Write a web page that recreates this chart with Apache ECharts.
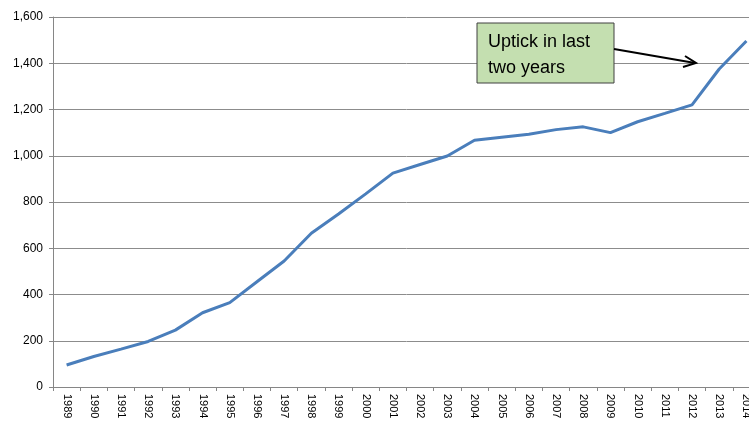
<!DOCTYPE html>
<html>
<head>
<meta charset="utf-8">
<style>
  html, body { margin: 0; padding: 0; background: #fff; overflow: hidden; }
  /* plot runs a little past the right edge, like the original */
  #chart { width: 760px; height: 423px; }
</style>
<script src="https://cdn.jsdelivr.net/npm/echarts@6/dist/echarts.min.js"></script>
</head>
<body>
<div id="chart"></div>
<script>
// years on the x axis
var years = [
  "1989", "1990", "1991", "1992", "1993", "1994", "1995", "1996", "1997",
  "1998", "1999", "2000", "2001", "2002", "2003", "2004", "2005", "2006",
  "2007", "2008", "2009", "2010", "2011", "2012", "2013", "2014"
];
// values
var values = [
  95, 132, 164, 197, 246, 321, 365, 455, 545,
  665, 748, 835, 925, 962, 999, 1067, 1080, 1093,
  1113, 1125, 1100, 1147, 1183, 1220, 1375, 1496
];
var yTicks = { min: 0, max: 1600, interval: 200 };
var noteLines = ["Uptick in last", "two years"];

var chart = echarts.init(document.getElementById("chart"));

var option = {
  animation: false,
  textStyle: { fontFamily: "Liberation Sans" },
  grid: {
    left: 53,
    right: 0,
    top: 17,
    bottom: 36,
    containLabel: false
  },
  xAxis: {
    type: "category",
    data: years,
    boundaryGap: true,
    axisLine: { lineStyle: { color: "#868686", width: 1 } },
    axisTick: { show: true, length: 4, lineStyle: { color: "#868686" } },
    axisLabel: {
      rotate: -90,
      interval: 0,
      margin: 7,
      color: "#000",
      fontSize: 11,
      fontFamily: "Liberation Sans"
    }
  },
  yAxis: {
    type: "value",
    min: yTicks.min,
    max: yTicks.max,
    interval: yTicks.interval,
    axisLine: { show: true, lineStyle: { color: "#868686", width: 1 } },
    axisTick: { show: true, length: 4, lineStyle: { color: "#868686" } },
    splitLine: { lineStyle: { color: "#8c8c8c", width: 1 } },
    axisLabel: {
      margin: 10,
      color: "#000",
      fontSize: 12,
      fontFamily: "Liberation Sans",
      formatter: function (v) { return v.toLocaleString("en-US"); }
    }
  },
  series: [
    {
      type: "line",
      data: values,
      symbol: "none",
      lineStyle: { color: "#4a7ebb", width: 3 },
      z: 3
    }
  ],
  // note box with arrow
  graphic: [
    {
      type: "rect",
      shape: { x: 477, y: 23, width: 137, height: 60 },
      style: { fill: "#c4dfb0", stroke: "#404040", lineWidth: 1 },
      z: 10
    },
    {
      type: "text",
      left: 488,
      top: 29,
      style: {
        text: noteLines.join("\n"),
        font: "18px 'Liberation Sans'",
        lineHeight: 26,
        fill: "#000"
      },
      z: 11
    },
    {
      type: "line",
      shape: { x1: 614, y1: 49, x2: 695, y2: 63 },
      style: { stroke: "#000", lineWidth: 2 },
      z: 10
    },
    {
      type: "polyline",
      shape: { points: [[685, 56], [696, 63], [683, 67]] },
      style: { stroke: "#000", lineWidth: 2, fill: null },
      z: 10
    }
  ]
};

chart.setOption(option);
</script>
</body>
</html>
